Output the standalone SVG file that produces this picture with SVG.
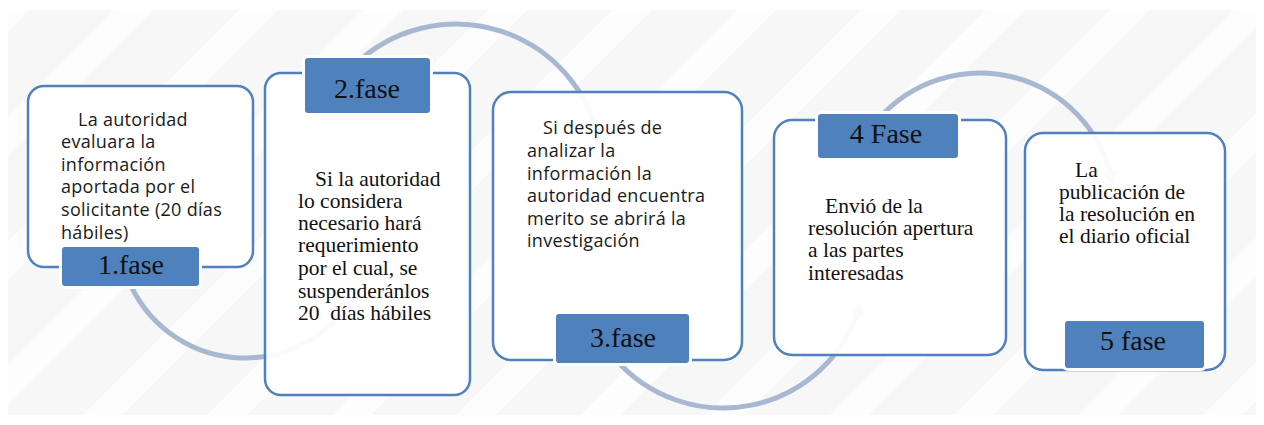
<svg xmlns="http://www.w3.org/2000/svg" width="1264" height="425" viewBox="0 0 1264 425">
<style>
.box{fill:#ffffff;fill-opacity:0.92;stroke:#4f81bd;stroke-width:2.5}
.lab{fill:#4f81bd;stroke:#ffffff;stroke-width:6;paint-order:stroke}
.lt{font-family:"Liberation Serif","Times New Roman",serif;font-size:28px;fill:#111111;text-anchor:middle}
.sans{font-family:"Open Sans","Liberation Sans",sans-serif;font-size:18px;letter-spacing:0.3px;fill:#1a1a1a}
.serif{font-family:"Liberation Serif","Times New Roman",serif;font-size:21.5px;fill:#111111}
.arc{fill:none;stroke:#a8b8d2;stroke-width:5;marker-end:url(#ah)}
</style>
<defs>
<pattern id="bg" patternUnits="userSpaceOnUse" width="88" height="88" patternTransform="rotate(45)">
<rect width="88" height="88" fill="#f7f7f7"/>
<rect x="0" width="28" height="88" fill="#fdfdfd"/>
</pattern>
<marker id="ah" viewBox="0 0 10 10" refX="6" refY="5" markerWidth="14" markerHeight="14" markerUnits="userSpaceOnUse" orient="auto">
<path d="M0,0 L10,5 L0,10 z" fill="#a8b8d2"/>
</marker>
</defs>
<rect x="0" y="0" width="1264" height="425" fill="#ffffff"/>
<rect x="8" y="10" width="1248" height="405" fill="url(#bg)"/>
<g id="connectors">
<path class="arc" d="M128.2,279.2 A126,126 0 0 0 350.7,300.6"/>
<path class="arc" d="M352.8,66.8 A146,146 0 0 1 599.8,144.7"/>
<path class="arc" d="M613.5,356.9 A143,143 0 0 0 859.8,306.8"/>
<path class="arc" d="M876.6,121.2 A135,135 0 0 1 1112,179.9"/>
</g>
<g id="fase1">
<rect class="box" x="28" y="86" width="225" height="181" rx="16"/>
<text class="sans"><tspan x="78" y="126">La autoridad</tspan><tspan x="61" y="148">evaluara la</tspan><tspan x="61" y="171">información</tspan><tspan x="61" y="193">aportada por el</tspan><tspan x="61" y="216">solicitante (20 días</tspan><tspan x="61" y="239">hábiles)</tspan></text>
<rect class="lab" x="62" y="247" width="137" height="39" rx="3"/>
<text class="lt" x="131" y="274">1.fase</text>
</g>
<g id="fase2">
<rect class="box" x="265" y="73" width="205" height="322" rx="16"/>
<text class="serif" xml:space="preserve"><tspan x="315" y="186">Si la autoridad</tspan><tspan x="298" y="208">lo considera</tspan><tspan x="298" y="230">necesario hará</tspan><tspan x="298" y="252">requerimiento</tspan><tspan x="298" y="275">por el cual, se</tspan><tspan x="298" y="298">suspenderánlos</tspan><tspan x="298" y="320">20  días hábiles</tspan></text>
<rect class="lab" x="305" y="58" width="125" height="55" rx="3"/>
<text class="lt" x="367" y="98">2.fase</text>
</g>
<g id="fase3">
<rect class="box" x="493" y="92" width="249" height="268" rx="18"/>
<text class="sans"><tspan x="543" y="134">Si después de</tspan><tspan x="527" y="157">analizar la</tspan><tspan x="527" y="180">información la</tspan><tspan x="527" y="202">autoridad encuentra</tspan><tspan x="527" y="225">merito se abrirá la</tspan><tspan x="527" y="247">investigación</tspan></text>
<rect class="lab" x="556" y="314" width="133" height="49" rx="3"/>
<text class="lt" x="623" y="347">3.fase</text>
</g>
<g id="fase4">
<rect class="box" x="774" y="120" width="232" height="235" rx="18"/>
<text class="serif"><tspan x="825" y="213">Envió de la</tspan><tspan x="808" y="235">resolución apertura</tspan><tspan x="808" y="257">a las partes</tspan><tspan x="808" y="280">interesadas</tspan></text>
<rect class="lab" x="818" y="114" width="140" height="44" rx="3"/>
<text class="lt" x="886" y="143">4 Fase</text>
</g>
<g id="fase5">
<rect class="box" x="1025" y="133" width="200" height="237" rx="18"/>
<text class="serif"><tspan x="1075" y="177">La</tspan><tspan x="1059" y="199">publicación de</tspan><tspan x="1059" y="221">la resolución en</tspan><tspan x="1059" y="243">el diario oficial</tspan></text>
<rect class="lab" x="1065" y="321" width="139" height="47" rx="3"/>
<text class="lt" x="1133" y="350">5 fase</text>
</g>
</svg>
